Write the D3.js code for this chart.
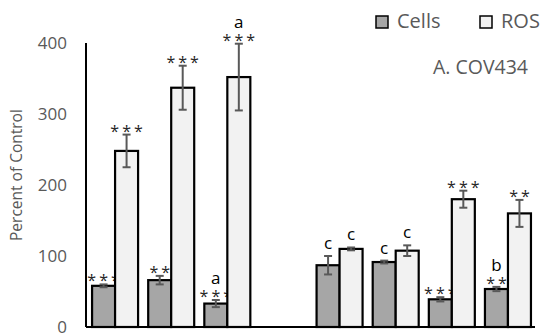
<!DOCTYPE html>
<meta charset="UTF-8">
<head>
<style>
body { margin: 0; background: #fff; }
text { font-family: "Open Sans", sans-serif; }
.tick text { fill: #595959; font-size: 17px; }
</style>
</head>
<body>
<script src="https://d3js.org/d3.v7.min.js"></script>
<script>

// slot "gap" is the empty space between the two sets of bars
var slots = ["g1", "g2", "g3", "gap", "g4", "g5", "g6", "g7"];
var groups = ["g1", "g2", "g3", "g4", "g5", "g6", "g7"];
var seriesNames = ["Cells", "ROS"];
var cells = [58, 66, 33, 87, 91.5, 39, 53.5];
var cellsErr = [2, 6, 5, 13, 2, 3, 3];
var ros = [248, 337, 352, 110, 107.5, 180, 160];
var rosErr = [23, 31, 47, 2, 7.5, 12, 19];
var cellsSig = ["***", "**", "***", "", "", "***", "**"];
var rosSig = ["***", "***", "***", "", "", "***", "**"];
var cellsLetter = ["", "", "a", "c", "c", "", "b"];
var rosLetter = ["", "", "a", "c", "c", "", ""];
var yTicks = [0, 100, 200, 300, 400];

var width = 550, height = 336;
var margin = {top: 43, right: 15, bottom: 9, left: 86};

var svg = d3.select("body").append("svg")
    .attr("width", width)
    .attr("height", height);

var x = d3.scaleBand()
    .domain(slots)
    .range([margin.left, width - margin.right]);

var xs = d3.scaleBand()
    .domain(seriesNames)
    .range([0, x.bandwidth()])
    .paddingOuter(0.22)
    .align(0.6);

var y = d3.scaleLinear()
    .domain([0, 400])
    .range([height - margin.bottom, margin.top]);

var colors = {Cells: "#a6a6a6", ROS: "#f2f2f2"};

// y axis labels (no tick marks)
var yAxis = svg.append("g")
    .attr("transform", "translate(" + margin.left + ",0)")
    .call(d3.axisLeft(y).tickValues(yTicks).tickSize(0).tickPadding(19));
yAxis.select(".domain").remove();
yAxis.selectAll(".tick text").attr("dy", "0.3em");

svg.append("text")
    .attr("transform", "translate(22," + y(214) + ") rotate(-90)")
    .attr("text-anchor", "middle")
    .style("font-size", "15.5px")
    .style("fill", "#595959")
    .text("Percent of Control");

var rows = groups.map(function(g, i) {
  return [
    {g: g, s: "Cells", v: cells[i], e: cellsErr[i], sig: cellsSig[i], let: cellsLetter[i]},
    {g: g, s: "ROS", v: ros[i], e: rosErr[i], sig: rosSig[i], let: rosLetter[i]}
  ];
}).flat();

var bar = svg.selectAll("g.bar")
    .data(rows)
  .enter().append("g")
    .attr("class", "bar")
    .attr("transform", function(d) { return "translate(" + (x(d.g) + xs(d.s)) + ",0)"; });

bar.append("rect")
    .attr("x", 0)
    .attr("width", xs.bandwidth())
    .attr("y", function(d) { return y(d.v); })
    .attr("height", function(d) { return y(0) - y(d.v); })
    .style("fill", function(d) { return colors[d.s]; })
    .style("stroke", "#000")
    .style("stroke-width", 2.2);

// error bars
var cx = xs.bandwidth() / 2;
bar.append("line")
    .attr("x1", cx).attr("x2", cx)
    .attr("y1", function(d) { return y(d.v + d.e); })
    .attr("y2", function(d) { return y(d.v - d.e); })
    .style("stroke", "#595959").style("stroke-width", 2);
bar.selectAll("line.cap")
    .data(function(d) { return [d.v + d.e, d.v - d.e]; })
  .enter().append("line")
    .attr("class", "cap")
    .attr("x1", cx - 4).attr("x2", cx + 4)
    .attr("y1", function(v) { return y(v); })
    .attr("y2", function(v) { return y(v); })
    .style("stroke", "#595959").style("stroke-width", 2);

bar.filter(function(d) { return d.sig; }).append("text")
    .attr("x", cx + 1.5)
    .attr("y", function(d) { return y(d.v + d.e) + 2; })
    .attr("text-anchor", "middle")
    .style("font-size", "16px")
    .style("letter-spacing", "3px")
    .style("fill", "#262626")
    .text(function(d) { return d.sig; });

bar.filter(function(d) { return d.let; }).append("text")
    .attr("x", cx)
    .attr("y", function(d) { return y(d.v + d.e) - (d.sig ? 16 : 7); })
    .attr("text-anchor", "middle")
    .style("font-size", "17px")
    .style("fill", "#000")
    .text(function(d) { return d.let; });

// axis lines
svg.append("line")
    .attr("x1", margin.left).attr("x2", margin.left)
    .attr("y1", y(400)).attr("y2", y(0))
    .style("stroke", "#000").style("stroke-width", 2);
svg.append("line")
    .attr("x1", margin.left).attr("x2", width - margin.right)
    .attr("y1", y(0)).attr("y2", y(0))
    .style("stroke", "#000").style("stroke-width", 2);

// legend
var legend = svg.selectAll("g.legend")
    .data(seriesNames)
  .enter().append("g")
    .attr("class", "legend")
    .attr("transform", function(d, i) { return "translate(" + (376 + i * 104) + ",16)"; });
legend.append("rect")
    .attr("width", 12).attr("height", 12)
    .style("fill", function(d) { return colors[d]; })
    .style("stroke", "#000").style("stroke-width", 1.5);
legend.append("text")
    .attr("x", 21).attr("y", 12)
    .style("font-size", "20px")
    .style("fill", "#595959")
    .text(function(d) { return d; });

svg.append("text")
    .attr("x", 528).attr("y", 74)
    .attr("text-anchor", "end")
    .style("font-size", "19.5px")
    .style("fill", "#595959")
    .text("A. COV434");

</script>
</body>
</html>
